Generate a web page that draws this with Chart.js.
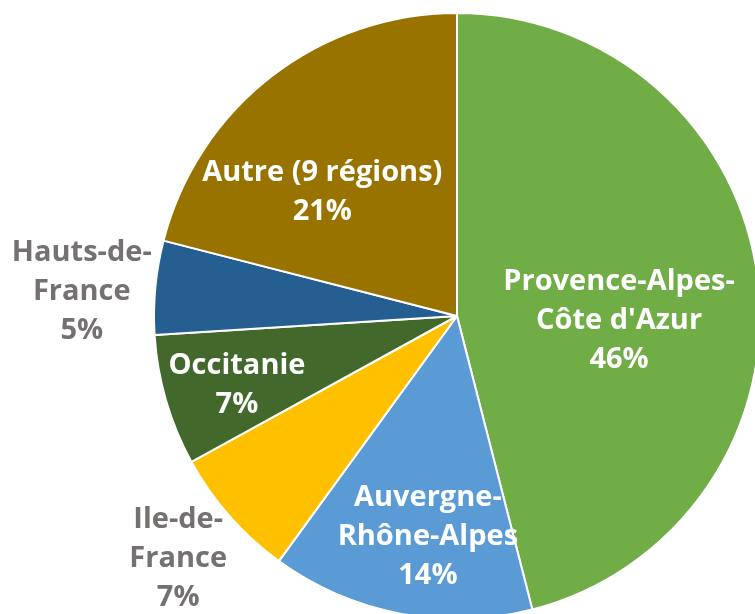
<!DOCTYPE html>
<html>
<head>
<meta charset="utf-8">
<script src="https://cdn.jsdelivr.net/npm/chart.js@4"></script>
<style>
  html, body { margin: 0; padding: 0; background: #fff; overflow: hidden; width: 755px; height: 614px; }
  canvas { display: block; }
</style>
</head>
<body>
<canvas id="pie" width="914" height="632"></canvas>
<script>
// regions, clockwise from 12 o'clock
const regions = ["Provence-Alpes-Côte d'Azur", "Auvergne-Rhône-Alpes", "Ile-de-France", "Occitanie", "Hauts-de-France", "Autre (9 régions)"];
const regionLines = [["Provence-Alpes-", "Côte d'Azur"], ["Auvergne-", "Rhône-Alpes"], ["Ile-de-", "France"], ["Occitanie"], ["Hauts-de-", "France"], ["Autre (9 régions)"]];
const shares = [46, 14, 7, 7, 5, 21];
const colors = ["#70AD47", "#5B9BD5", "#FFC000", "#43682B", "#255E91", "#997300"];

// where each label sits: fraction of radius + angle nudge (deg)
const labelPlace = [[0.535, 9], [0.736, -3.3], [1.221, 0.3], [0.761, -1.2], [1.241, -1.7], [0.604, -9.6]];

const pieLabels = {
    id: "pieLabels",
    afterDatasetsDraw(chart) {
        const ctx = chart.ctx;
        const meta = chart.getDatasetMeta(0);
        ctx.save();
        ctx.font = "bold 29px 'Open Sans'";
        ctx.textAlign = "center";
        ctx.textBaseline = "middle";
        meta.data.forEach((arc, i) => {
            const p = arc.getProps(["x", "y", "startAngle", "endAngle", "outerRadius"], true);
            const [f, nudge] = labelPlace[i];
            const a = (p.startAngle + p.endAngle) / 2 + nudge * Math.PI / 180;
            const cx = p.x + Math.cos(a) * p.outerRadius * f;
            const cy = p.y + Math.sin(a) * p.outerRadius * f;
            const lines = [...regionLines[i], shares[i] + "%"];
            const lh = 39;
            ctx.fillStyle = f > 1 ? "#767171" : "#ffffff";
            lines.forEach((t, k) => {
                ctx.fillText(t, cx, cy + (k - (lines.length - 1) / 2) * lh);
            });
        });
        ctx.restore();
    }
};

new Chart(document.getElementById("pie"), {
    type: "pie",
    data: {
        labels: regions,
        datasets: [{
            data: shares,
            backgroundColor: colors,
            borderColor: "#ffffff",
            borderWidth: 2,
            hoverOffset: 0
        }]
    },
    options: {
        responsive: false,
        animation: false,
        radius: 303,
        layout: { padding: 0 },
        plugins: {
            legend: { display: false },
            tooltip: { enabled: false }
        }
    },
    plugins: [pieLabels]
});
</script>
</body>
</html>
